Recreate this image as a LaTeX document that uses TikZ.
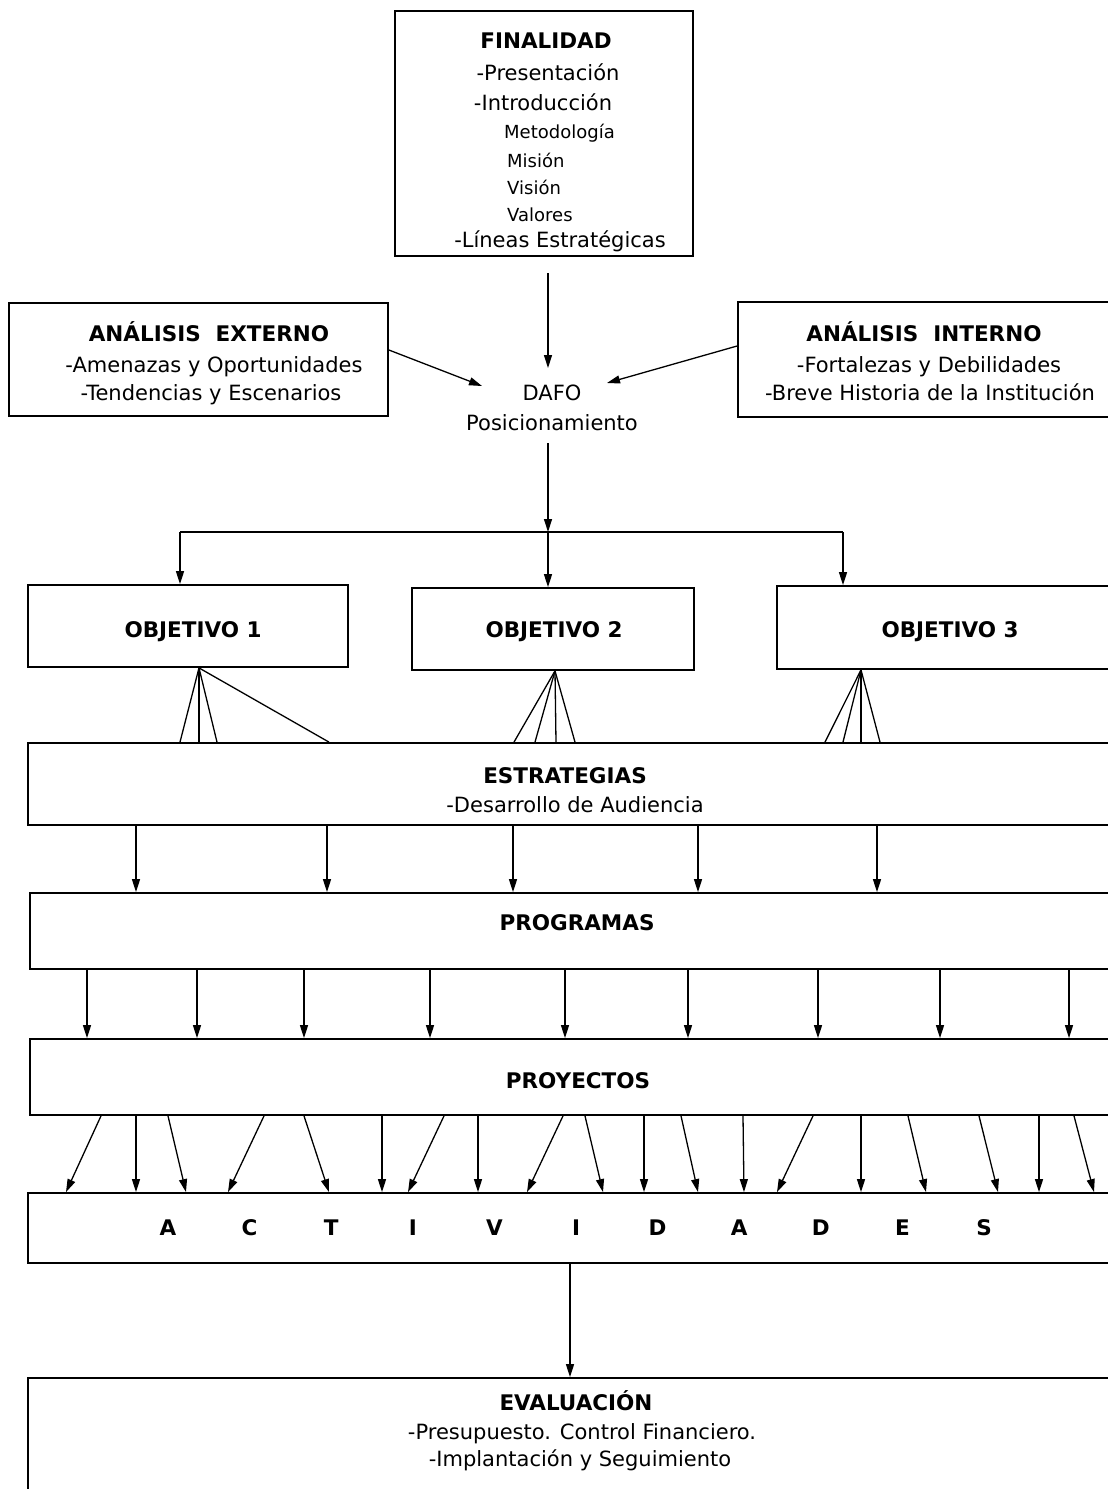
\documentclass[tikz,border=0pt]{standalone}
\usepackage{fontspec}
\setmainfont{DejaVu Sans}
\usetikzlibrary{arrows.meta}
\begin{document}
\begin{tikzpicture}[x=1pt,y=-1pt,
  box/.style={draw,line width=1.8pt,inner sep=0pt},
  txt/.style={inner sep=0pt,anchor=base,font=\fontsize{21}{25}\selectfont},
  ttl/.style={inner sep=0pt,anchor=base,font=\fontsize{21.5}{25}\selectfont\bfseries},
  sml/.style={inner sep=0pt,anchor=base west,font=\fontsize{18}{22}\selectfont},
  arr/.style={line width=1.3pt,-{Triangle[length=13pt,width=8pt]}},
  ln/.style={line width=1.3pt}]
\useasboundingbox (0,0) rectangle (1108,1489);
\clip (0,0) rectangle (1108,1489);
\fill[white] (0,0) rectangle (1108,1489);

% boxes
\node[box,minimum width=298pt,minimum height=245pt] (fin) at (544,133.5) {};
\node[box,minimum width=379pt,minimum height=113pt] (ext) at (198.5,359.5) {};
\node[box,minimum width=402pt,minimum height=115pt] (int) at (939,359.5) {};
\node[box,minimum width=320pt,minimum height=82pt] (obj1) at (188,626) {};
\node[box,minimum width=282pt,minimum height=82pt] (obj2) at (553,629) {};
\node[box,minimum width=363pt,minimum height=83pt] (obj3) at (958.5,627.5) {};
\node[box,minimum width=1112pt,minimum height=82pt] (estr) at (584,784) {};
\node[box,minimum width=1110pt,minimum height=76pt] (prog) at (585,931) {};
\node[box,minimum width=1110pt,minimum height=76pt] (proy) at (585,1077) {};
\node[box,minimum width=1112pt,minimum height=70pt] (act) at (584,1228) {};
\node[box,minimum width=1112pt,minimum height=142pt] (eval) at (584,1449) {};

% texts
\node[ttl] (finT) at (546,48) {FINALIDAD};
\node[txt] (fin1) at (548,80) {-Presentación};
\node[txt] (fin2) at (543,110) {-Introducción};
\node[sml] (fin3) at (504,138) {Metodología};
\node[sml] (fin4) at (507,167) {Misión};
\node[sml] (fin5) at (507,194) {Visión};
\node[sml] (fin6) at (507,221) {Valores};
\node[txt] (fin7) at (560,247) {-Líneas Estratégicas};

\node[ttl] (extT) at (209,341) {ANÁLISIS\ \ EXTERNO};
\node[txt] (ext1) at (214,372) {-Amenazas y Oportunidades};
\node[txt] (ext2) at (211,400) {-Tendencias y Escenarios};

\node[ttl] (intT) at (924,341) {ANÁLISIS\ \ INTERNO};
\node[txt] (int1) at (929,372) {-Fortalezas y Debilidades};
\node[txt] (int2) at (930,400) {-Breve Historia de la Institución};

\node[txt] (dafo) at (552,400) {DAFO};
\node[txt] (posi) at (552,430) {Posicionamiento};

\node[ttl] (obj1T) at (193,637) {OBJETIVO 1};
\node[ttl] (obj2T) at (554,637) {OBJETIVO 2};
\node[ttl] (obj3T) at (950,637) {OBJETIVO 3};

\node[ttl] (estrT) at (565,783) {ESTRATEGIAS};
\node[txt] (estr1) at (575,812) {-Desarrollo de Audiencia};
\node[ttl] (progT) at (577,930) {PROGRAMAS};
\node[ttl] (proyT) at (578,1088) {PROYECTOS};
\node[ttl] (actT) at (576,1235) {\makebox[81.6pt]{A}\makebox[81.6pt]{C}\makebox[81.6pt]{T}\makebox[81.6pt]{I}\makebox[81.6pt]{V}\makebox[81.6pt]{I}\makebox[81.6pt]{D}\makebox[81.6pt]{A}\makebox[81.6pt]{D}\makebox[81.6pt]{E}\makebox[81.6pt]{S}};
\node[ttl] (evalT) at (576,1410) {EVALUACIÓN};
\node[txt] (eval1) at (582,1439) {-Presupuesto. Control Financiero.};
\node[txt] (eval2) at (580,1466) {-Implantación y Seguimiento};

% connectors to DAFO
\coordinate (finA) at (548,273);
\coordinate (dafoT) at (548,368);
\coordinate (dafoL) at (482,386);
\coordinate (dafoR) at (607,383);
\draw[arr] (finA) -- (dafoT);
\draw[arr] (ext.east |- 0,350) -- (dafoL);
\draw[arr] (int.west |- 0,346) -- (dafoR);

% DAFO to objetivos
\coordinate (hL) at (180,532);
\coordinate (hJ) at (548,532);
\coordinate (hR) at (843,532);
\coordinate (posA) at (548,443);
\draw[arr] (posA) -- (hJ);
\draw[ln] (hL) -- (hR);
\draw[arr] (hL) -- (obj1.north -| hL);
\draw[arr] (hJ) -- (obj2.north -| hJ);
\draw[arr] (hR) -- (obj3.north -| hR);

% fans objetivos -> estrategias
\foreach \x in {180,199,217,329} \draw[ln] (obj1.south -| 199,0) -- (estr.north -| \x,0);
\foreach \x in {514,535,556,575} \draw[ln] (obj2.south -| 555,0) -- (estr.north -| \x,0);
\foreach \x in {825,843,861,880} \draw[ln] (obj3.south -| 861,0) -- (estr.north -| \x,0);

% estrategias -> programas
\foreach \x in {136,327,513,698,877} \draw[arr] (estr.south -| \x,0) -- (prog.north -| \x,0);

% programas -> proyectos
\foreach \x in {87,197,304,430,565,688,818,940,1069} \draw[arr] (prog.south -| \x,0) -- (proy.north -| \x,0);

% proyectos -> actividades
\foreach \a/\b in {101/66,136/136,168/186,264/228,304/329,382/382,444/408,478/478,563/527,585/603,644/644,681/698,743/744,813/777,861/861,908/926,979/998,1039/1039,1074/1094}
  \draw[arr] (proy.south -| \a,0) -- (act.north -| \b,0);

% actividades -> evaluacion
\draw[arr] (act.south -| 570,0) -- (eval.north -| 570,0);
\end{tikzpicture}
\end{document}
